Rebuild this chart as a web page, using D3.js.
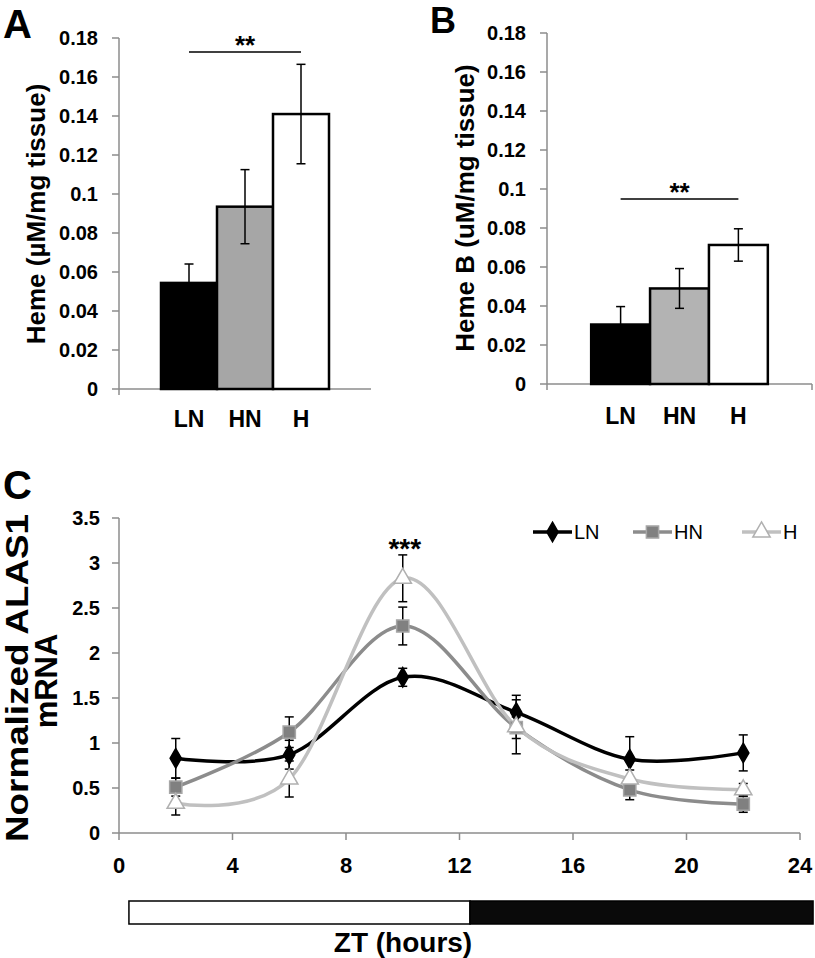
<!DOCTYPE html>
<html><head><meta charset="utf-8">
<script src="https://cdn.jsdelivr.net/npm/d3@7"></script>
<style>
html,body{margin:0;padding:0;background:#fff;}
svg{display:block;}
text{font-family:"Liberation Sans",Arial,sans-serif;}
</style></head>
<body>
<svg id="chart" width="815" height="958"></svg>
<script>
// ---------- DATA ----------
const groups = ["LN", "HN", "H"];
const hemeA = [0.0544, 0.0935, 0.141];
const hemeAErr = [0.0097, 0.019, 0.0255];
const hemeB = [0.0305, 0.049, 0.0713];
const hemeBErr = [0.0092, 0.0102, 0.0083];
const barTicks = [0, 0.02, 0.04, 0.06, 0.08, 0.1, 0.12, 0.14, 0.16, 0.18];
const barTickLabels = ["0", "0.02", "0.04", "0.06", "0.08", "0.1", "0.12", "0.14", "0.16", "0.18"];

const zt = [2, 6, 10, 14, 18, 22];
const lnMRNA = [0.83, 0.87, 1.73, 1.34, 0.82, 0.89];
const lnErr = [0.22, 0.16, 0.10, 0.19, 0.25, 0.20];
const hnMRNA = [0.51, 1.12, 2.30, 1.17, 0.48, 0.32];
const hnErr = [0.10, 0.17, 0.21, 0.12, 0.11, 0.09];
const hMRNA = [0.33, 0.60, 2.83, 1.18, 0.60, 0.48];
const hErr = [0.13, 0.20, 0.26, 0.30, 0.10, 0.07];
const cYTicks = [0, 0.5, 1, 1.5, 2, 2.5, 3, 3.5];
const cYTickLabels = ["0", "0.5", "1", "1.5", "2", "2.5", "3", "3.5"];
const cXTicks = [0, 4, 8, 12, 16, 20, 24];
const lightPhase = [{start: 0.35, end: 12.37, phase: "light"}, {start: 12.37, end: 24.46, phase: "dark"}];

// ---------- STYLE ----------
const svg = d3.select("#chart");
const AXIS = "#8c8c8c";
const barFills = {LN: "#000000", HN: "#a6a6a6", H: "#ffffff"};
const barFillsB = {LN: "#000000", HN: "#b3b3b3", H: "#ffffff"};

function barPanel(opt) {
  const g = svg.append("g");
  const y = d3.scaleLinear().domain([0, 0.18]).range([opt.y0, opt.y1]);
  const x = d3.scaleBand().domain(groups).range([opt.x0, opt.x1]).paddingInner(0).paddingOuter(0.75);
  g.append("line").attr("x1", opt.x0).attr("x2", opt.x0).attr("y1", y(0.18)).attr("y2", y(0) + 6)
    .attr("stroke", AXIS).attr("stroke-width", 1.5);
  g.append("line").attr("x1", opt.x0).attr("x2", opt.x1).attr("y1", y(0)).attr("y2", y(0))
    .attr("stroke", AXIS).attr("stroke-width", 1.5);
  if (opt.rightTick) g.append("line").attr("x1", opt.x1).attr("x2", opt.x1).attr("y1", y(0)).attr("y2", y(0) + 6)
    .attr("stroke", AXIS).attr("stroke-width", 1.5);
  g.selectAll(".tk").data(barTicks).enter().append("line")
    .attr("x1", opt.x0 - 7).attr("x2", opt.x0).attr("y1", d => y(d)).attr("y2", d => y(d))
    .attr("stroke", AXIS).attr("stroke-width", 1.5);
  g.selectAll(".tl").data(barTicks).enter().append("text")
    .attr("x", opt.x0 - 21).attr("y", d => y(d)).attr("dy", "0.36em")
    .attr("text-anchor", "end").attr("font-weight", "bold").attr("font-size", 20)
    .text((d, i) => barTickLabels[i]);
  g.selectAll(".bar").data(groups).enter().append("rect")
    .attr("x", d => x(d)).attr("width", x.bandwidth())
    .attr("y", (d, i) => y(opt.vals[i])).attr("height", (d, i) => y(0) - y(opt.vals[i]))
    .attr("fill", d => opt.fills[d]).attr("stroke", "#000").attr("stroke-width", 2.5);
  groups.forEach((d, i) => {
    const cx = x(d) + x.bandwidth() / 2;
    const hi = y(opt.vals[i] + opt.errs[i]), lo = y(opt.vals[i] - opt.errs[i]);
    g.append("line").attr("x1", cx).attr("x2", cx).attr("y1", hi).attr("y2", lo).attr("stroke", "#000").attr("stroke-width", 1.5);
    [hi, lo].forEach(yy => g.append("line").attr("x1", cx - 4.5).attr("x2", cx + 4.5).attr("y1", yy).attr("y2", yy)
      .attr("stroke", "#000").attr("stroke-width", 1.5));
  });
  g.selectAll(".cl").data(groups).enter().append("text")
    .attr("x", d => x(d) + x.bandwidth() / 2).attr("y", opt.catY)
    .attr("text-anchor", "middle").attr("font-weight", "bold").attr("font-size", 23).text(d => d);
  const sx1 = x("LN") + x.bandwidth() / 2, sx2 = x("H") + x.bandwidth() / 2, sy = y(opt.sig);
  g.append("line").attr("x1", sx1).attr("x2", sx2).attr("y1", sy).attr("y2", sy).attr("stroke", "#000").attr("stroke-width", 1.5);
  g.append("text").attr("x", (sx1 + sx2) / 2).attr("y", sy + 2).attr("text-anchor", "middle")
    .attr("font-weight", "bold").attr("font-size", 26).text("**");
  g.append("text").attr("transform", `translate(${opt.labX},${opt.labY}) rotate(-90)`)
    .attr("text-anchor", "middle").attr("font-weight", "bold").attr("font-size", 26).text(opt.label);
  g.append("text").attr("x", opt.letX).attr("y", opt.letY).attr("font-weight", "bold").attr("font-size", opt.letSize).text(opt.letter);
}

barPanel({x0: 119, x1: 371, y0: 389, y1: 38, vals: hemeA, errs: hemeAErr, fills: barFills,
  catY: 427, sig: 0.1728, label: "Heme (µM/mg tissue)", labX: 45, labY: 214, letter: "A", letX: 3, letY: 38, letSize: 40, rightTick: false});
barPanel({x0: 547, x1: 812, y0: 384, y1: 33, vals: hemeB, errs: hemeBErr, fills: barFillsB,
  catY: 424, sig: 0.0949, label: "Heme B (uM/mg tissue)", labX: 474, labY: 208, letter: "B", letX: 430, letY: 33, letSize: 36, rightTick: true});

// ---------- PANEL C ----------
const xC = d3.scaleLinear().domain([0, 24]).range([119, 800]);
const yC = d3.scaleLinear().domain([0, 3.5]).range([833, 518]);
const gc = svg.append("g");
gc.append("line").attr("x1", xC(0)).attr("x2", xC(0)).attr("y1", yC(3.5)).attr("y2", yC(0)).attr("stroke", AXIS).attr("stroke-width", 1.5);
gc.append("line").attr("x1", xC(0)).attr("x2", xC(24)).attr("y1", yC(0)).attr("y2", yC(0)).attr("stroke", AXIS).attr("stroke-width", 1.5);
gc.selectAll(".yt").data(cYTicks).enter().append("line")
  .attr("x1", xC(0) - 7).attr("x2", xC(0)).attr("y1", d => yC(d)).attr("y2", d => yC(d)).attr("stroke", AXIS).attr("stroke-width", 1.5);
gc.selectAll(".ytl").data(cYTicks).enter().append("text")
  .attr("x", 100).attr("y", d => yC(d)).attr("dy", "0.36em").attr("text-anchor", "end")
  .attr("font-weight", "bold").attr("font-size", 20).text((d, i) => cYTickLabels[i]);
gc.selectAll(".xt").data(cXTicks).enter().append("line")
  .attr("x1", d => xC(d)).attr("x2", d => xC(d)).attr("y1", yC(0)).attr("y2", yC(0) + 7).attr("stroke", AXIS).attr("stroke-width", 1.5);
gc.selectAll(".xtl").data(cXTicks).enter().append("text")
  .attr("x", d => xC(d)).attr("y", 873).attr("text-anchor", "middle")
  .attr("font-weight", "bold").attr("font-size", 22).text(d => d);

const series = [
  {name: "LN", vals: lnMRNA, errs: lnErr, color: "#000000", marker: "diamond", mfill: "#000000", mstroke: "#000000"},
  {name: "HN", vals: hnMRNA, errs: hnErr, color: "#8c8c8c", marker: "square", mfill: "#808080", mstroke: "#a6a6a6"},
  {name: "H", vals: hMRNA, errs: hErr, color: "#c0c0c0", marker: "triangle", mfill: "#ffffff", mstroke: "#b0b0b0"}
];
const line = d3.line().x(d => xC(d[0])).y(d => yC(d[1])).curve(d3.curveCardinal.tension(0));
const symbolOf = {diamond: d3.symbol().type(d3.symbolDiamond).size(110),
  square: d3.symbol().type(d3.symbolSquare).size(150),
  triangle: d3.symbol().type(d3.symbolTriangle).size(130)};

series.forEach(s => {
  gc.append("path").datum(zt.map((t, i) => [t, s.vals[i]])).attr("d", line)
    .attr("fill", "none").attr("stroke", s.color).attr("stroke-width", 3.5);
});
series.forEach(s => {
  zt.forEach((t, i) => {
    const cx = xC(t), hi = yC(s.vals[i] + s.errs[i]), lo = yC(s.vals[i] - s.errs[i]);
    gc.append("line").attr("x1", cx).attr("x2", cx).attr("y1", hi).attr("y2", lo).attr("stroke", "#000").attr("stroke-width", 1.5);
    [hi, lo].forEach(yy => gc.append("line").attr("x1", cx - 4.5).attr("x2", cx + 4.5).attr("y1", yy).attr("y2", yy)
      .attr("stroke", "#000").attr("stroke-width", 1.5));
  });
});
series.forEach(s => {
  zt.forEach((t, i) => {
    gc.append("path").attr("d", symbolOf[s.marker]()).attr("transform", `translate(${xC(t)},${yC(s.vals[i])})`)
      .attr("fill", s.mfill).attr("stroke", s.mstroke).attr("stroke-width", 1.5);
  });
});
gc.append("text").attr("x", xC(10) + 2).attr("y", 558).attr("text-anchor", "middle")
  .attr("font-weight", "bold").attr("font-size", 28).text("***");

const legX = [533, 633, 742];
series.forEach((s, i) => {
  const lg = gc.append("g");
  lg.append("line").attr("x1", legX[i]).attr("x2", legX[i] + 39).attr("y1", 532).attr("y2", 532)
    .attr("stroke", s.color).attr("stroke-width", 3.5);
  lg.append("path").attr("d", symbolOf[s.marker]()).attr("transform", `translate(${legX[i] + 19.5},532)`)
    .attr("fill", s.mfill).attr("stroke", s.mstroke).attr("stroke-width", 1.5);
  lg.append("text").attr("x", legX[i] + 41).attr("y", 539).attr("font-size", 20).text(s.name);
});

const yl = gc.append("text").attr("transform", "translate(0,678) rotate(-90)")
  .attr("text-anchor", "middle").attr("font-weight", "bold").attr("font-size", 31);
yl.append("tspan").attr("x", 0).attr("y", 28).attr("textLength", 328).attr("lengthAdjust", "spacingAndGlyphs").text("Normalized ALAS1");
yl.append("tspan").attr("x", -3).attr("y", 57).text("mRNA");
gc.append("text").attr("x", 3).attr("y", 499).attr("font-weight", "bold").attr("font-size", 40).text("C");

gc.selectAll(".ld").data(lightPhase).enter().append("rect")
  .attr("x", d => xC(d.start)).attr("width", d => xC(d.end) - xC(d.start))
  .attr("y", 901).attr("height", 23)
  .attr("fill", d => d.phase === "light" ? "#ffffff" : "#0a0a0a")
  .attr("stroke", "#000").attr("stroke-width", 1.5);
gc.append("text").attr("x", 403).attr("y", 952).attr("text-anchor", "middle")
  .attr("font-weight", "bold").attr("font-size", 28).text("ZT (hours)");
</script>
</body></html>
